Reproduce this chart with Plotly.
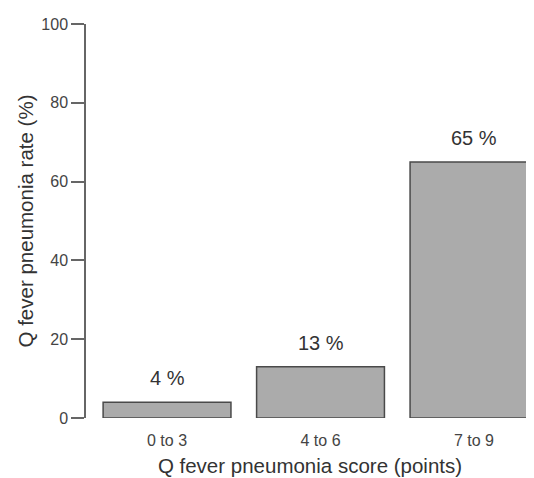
import plotly.graph_objects as go

categories = ["0 to 3", "4 to 6", "7 to 9"]
rates = [4, 13, 65]
bar_labels = ["4 %", "13 %", "65 %"]
y_ticks = [0, 20, 40, 60, 80, 100]

xpos = [1, 2, 3]

fig = go.Figure()
fig.add_trace(go.Bar(
    x=xpos, y=rates, width=0.833,
    marker=dict(color="#ababab", line=dict(color="#4a4a4a", width=1.5)),
    showlegend=False, hoverinfo="skip",
))

for xv, yv, lab in zip(xpos, rates, bar_labels):
    fig.add_annotation(
        x=xv, y=yv, text=lab, showarrow=False,
        yanchor="bottom", yshift=11,
        font=dict(size=20, color="#333333"),
    )

fig.update_layout(
    width=534, height=478,
    margin=dict(l=78, r=8, t=14, b=68),
    plot_bgcolor="white", paper_bgcolor="white",
    font=dict(family="Liberation Sans, Arial", color="#444444"),
)
fig.update_xaxes(
    range=[0.472, 3.391],
    tickvals=xpos, ticktext=categories,
    showline=False, showgrid=False, zeroline=False,
    ticks="outside", ticklen=8, tickcolor="rgba(0,0,0,0)",
    tickfont=dict(size=16, color="#444444"),
    title=dict(text="Q fever pneumonia score (points)", font=dict(size=20.5, color="#333333"), standoff=10),
)
fig.update_yaxes(
    range=[0, 100],
    tickvals=y_ticks,
    showline=True, linecolor="#666666", linewidth=1.5,
    showgrid=False, zeroline=False,
    ticks="outside", ticklen=13, tickcolor="#666666", tickwidth=1.5,
    tickfont=dict(size=16, color="#444444"),
    title=dict(text="Q fever pneumonia rate (%)", font=dict(size=20.5, color="#333333"), standoff=2),
)

fig.write_html("out.html")
